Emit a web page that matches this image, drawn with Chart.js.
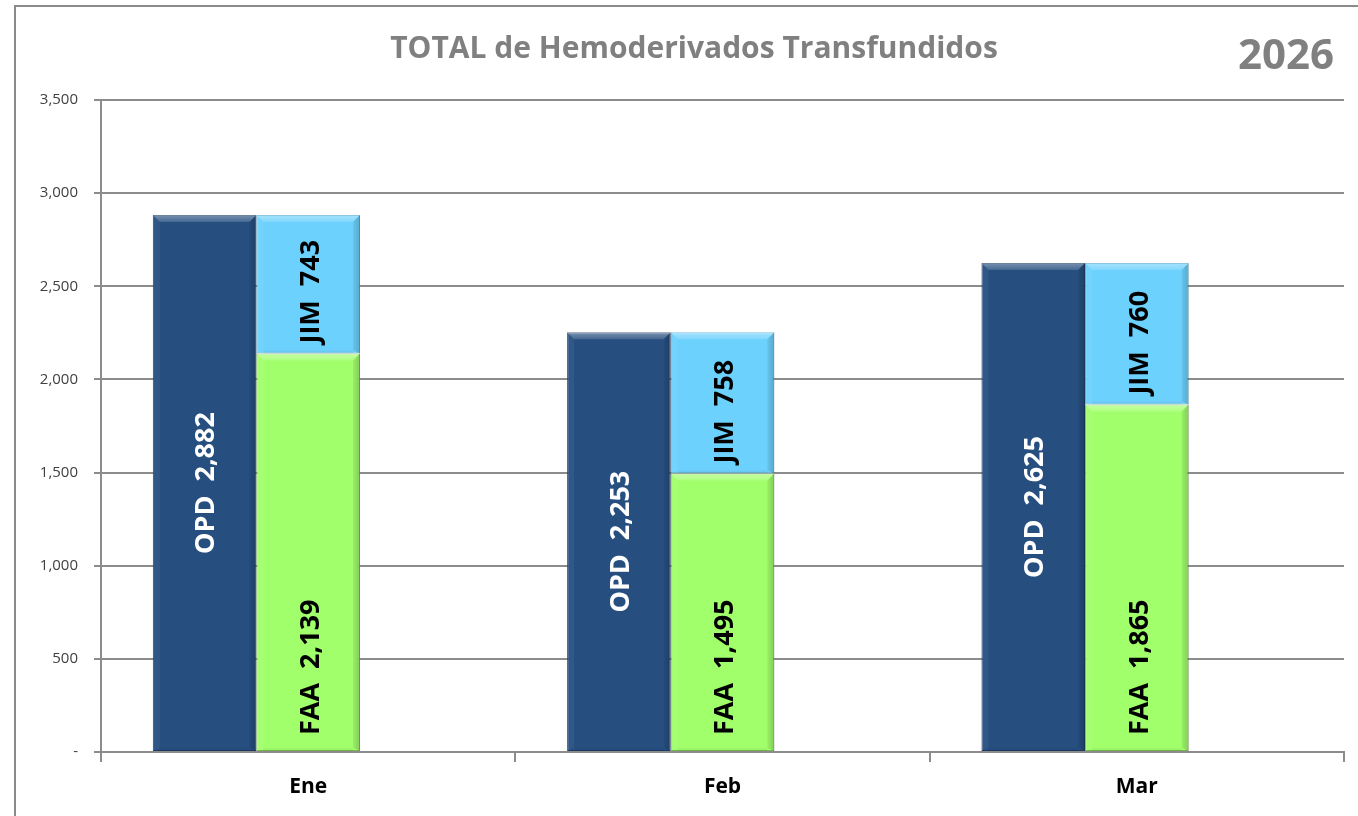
<!DOCTYPE html>
<html>
<head>
<meta charset="utf-8">
<script src="https://cdn.jsdelivr.net/npm/chart.js@4.4.1/dist/chart.umd.min.js"></script>
<style>
  html, body { margin: 0; padding: 0; background: #fff; }
  #wrap { position: relative; width: 1358px; height: 816px; }
</style>
</head>
<body>
<div id="wrap"><canvas id="c"></canvas></div>
<script>
const months = ['Ene', 'Feb', 'Mar'];
const opd = [2882, 2253, 2625];
const faa = [2139, 1495, 1865];
const jim = [743, 758, 760];
const spacer = [0, 0, 0]; // empty third slot, pushes the pair left like the original
const yMax = 3500;
const yStep = 500;

const GRID = '#8c8c8c';
const fmt = v => v.toLocaleString('en-US');

// frame + title + year
const frame = {
  id: 'frame',
  beforeDraw(chart) {
    const ctx = chart.ctx;
    ctx.save();
    ctx.strokeStyle = '#8a8a8a';
    ctx.lineWidth = 2;
    ctx.strokeRect(15, 6, 1400, 900);
    ctx.fillStyle = '#808080';
    ctx.textBaseline = 'middle';
    ctx.textAlign = 'center';
    ctx.font = 'bold 30px "Open Sans"';
    ctx.fillText('TOTAL de Hemoderivados Transfundidos', 694, 49);
    ctx.textAlign = 'right';
    ctx.font = 'bold 42px "Open Sans"';
    ctx.fillText('2026', 1334, 57);
    ctx.restore();
  }
};

// Excel-ish bevel on each bar, then the rotated value labels
const bevelLabels = {
  id: 'bevelLabels',
  afterDatasetsDraw(chart) {
    const ctx = chart.ctx;
    chart.data.datasets.forEach((ds, i) => {
      if (!ds.tag) return;
      const meta = chart.getDatasetMeta(i);
      meta.data.forEach((bar, j) => {
        const { x, y, base, width } = bar.getProps(['x', 'y', 'base', 'width'], true);
        const l = x - width / 2, r = x + width / 2;
        const t = Math.min(y, base), b = Math.max(y, base);
        const d = 7;
        ctx.save();
        // top highlight
        let g = ctx.createLinearGradient(0, t, 0, t + d);
        g.addColorStop(0, 'rgba(255,255,255,0.38)');
        g.addColorStop(1, 'rgba(255,255,255,0.14)');
        ctx.fillStyle = g;
        ctx.beginPath();
        ctx.moveTo(l, t); ctx.lineTo(r, t); ctx.lineTo(r - d, t + d); ctx.lineTo(l + d, t + d);
        ctx.closePath(); ctx.fill();
        // left edge
        ctx.fillStyle = 'rgba(255,255,255,0.05)';
        ctx.beginPath();
        ctx.moveTo(l, t); ctx.lineTo(l + d, t + d); ctx.lineTo(l + d, b - 3); ctx.lineTo(l, b);
        ctx.closePath(); ctx.fill();
        // right edge
        g = ctx.createLinearGradient(r - d, 0, r, 0);
        g.addColorStop(0, 'rgba(0,0,0,0.06)');
        g.addColorStop(1, 'rgba(0,0,0,0.2)');
        ctx.fillStyle = g;
        ctx.beginPath();
        ctx.moveTo(r, t); ctx.lineTo(r - d, t + d); ctx.lineTo(r - d, b - 3); ctx.lineTo(r, b);
        ctx.closePath(); ctx.fill();
        // bottom edge, barely there
        ctx.fillStyle = 'rgba(0,0,0,0.04)';
        ctx.fillRect(l + d, b - 3, width - 2 * d, 3);

        // label
        const text = ds.tag + '  ' + fmt(ds.data[j]);
        ctx.fillStyle = ds.labelColor;
        ctx.font = 'bold 27px "Open Sans"';
        ctx.textBaseline = 'middle';
        if (ds.labelPos === 'center') {
          ctx.translate(x + 2, (t + b) / 2);
          ctx.rotate(-Math.PI / 2);
          ctx.textAlign = 'center';
        } else {
          ctx.translate(x + 3, b - ds.labelOffset);
          ctx.rotate(-Math.PI / 2);
          ctx.textAlign = 'left';
        }
        ctx.fillText(text, 0, 0);
        ctx.restore();
      });
    });
  }
};

new Chart(document.getElementById('c'), {
  type: 'bar',
  data: {
    labels: months,
    datasets: [
      { label: 'OPD', tag: 'OPD', data: opd, stack: 'a', backgroundColor: '#264f80', borderColor: '#1c3b62',
        borderWidth: 1, borderSkipped: false, labelColor: '#ffffff', labelPos: 'center' },
      { label: 'FAA', tag: 'FAA', data: faa, stack: 'b', backgroundColor: '#a2ff6c', borderColor: '#72b84c',
        borderWidth: 1, borderSkipped: false, labelColor: '#000000', labelPos: 'base', labelOffset: 16 },
      { label: 'JIM', tag: 'JIM', data: jim, stack: 'b', backgroundColor: '#6dd1fd', borderColor: '#4aa6d4',
        borderWidth: 1, borderSkipped: false, labelColor: '#000000', labelPos: 'base', labelOffset: 10 },
      { label: '', data: spacer, stack: 'c', backgroundColor: 'rgba(0,0,0,0)', borderWidth: 0 }
    ]
  },
  options: {
    responsive: true,
    maintainAspectRatio: false,
    animation: false,
    datasets: { bar: { categoryPercentage: 0.75, barPercentage: 1.0 } },
    layout: { padding: { top: 100, right: 14, left: 0, bottom: 0 } },
    plugins: { legend: { display: false }, tooltip: { enabled: false } },
    scales: {
      x: {
        stacked: true,
        afterFit(s) { s.height = 64; },
        grid: { offset: true, drawOnChartArea: false, drawTicks: true, tickLength: 10, color: GRID, lineWidth: 2 },
        border: { display: true, color: GRID, width: 2 },
        ticks: { color: '#000', padding: 12, font: { family: 'Open Sans', size: 21, weight: 'bold' } }
      },
      y: {
        stacked: true,
        min: 0,
        max: yMax,
        afterFit(s) { s.width = 101; },
        grid: { color: GRID, lineWidth: 2, tickLength: 7 },
        border: { display: true, color: GRID, width: 2 },
        ticks: {
          stepSize: yStep,
          padding: 16,
          color: '#404040',
          font: { family: 'Open Sans', size: 15 },
          callback: v => v === 0 ? '-' : fmt(v)
        }
      }
    }
  },
  plugins: [frame, bevelLabels]
});
</script>
</body>
</html>
